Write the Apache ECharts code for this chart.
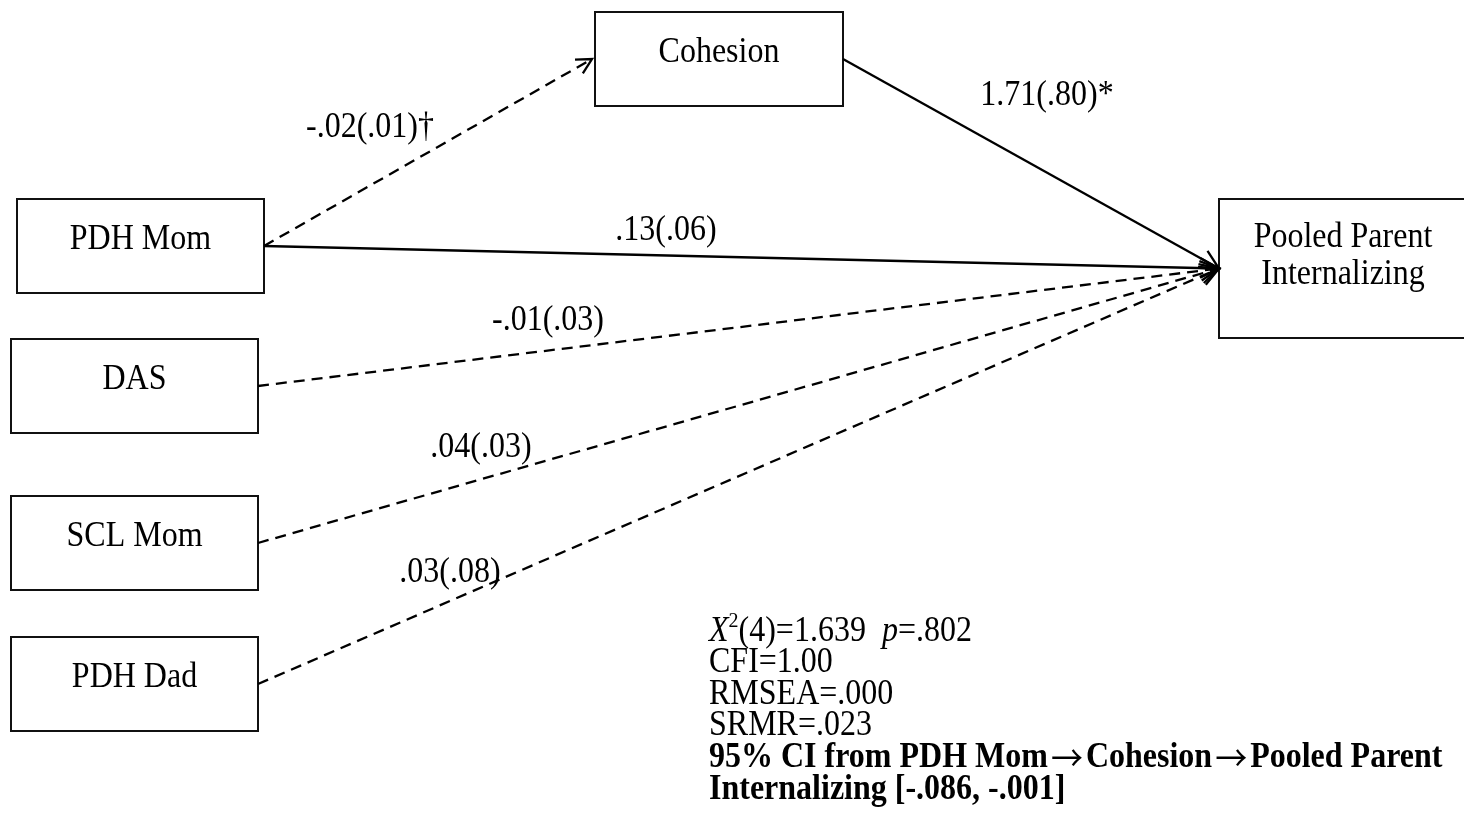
<!DOCTYPE html>
<html>
<head>
<meta charset="utf-8">
<title>Path model: Pooled Parent Internalizing</title>
<script src="https://cdn.jsdelivr.net/npm/echarts@6.0.0/dist/echarts.min.js"></script>
<style>
  html, body { margin: 0; padding: 0; background: #fff; }
  #chart { width: 1464px; height: 828px; }
</style>
</head>
<body>
<div id="chart"></div>
<script>
// ---- Model variables ----
const nodeNames = ['Cohesion', 'PDH Mom', 'DAS', 'SCL Mom', 'PDH Dad', 'Pooled Parent\nInternalizing'];

// ---- Path estimates: unstandardized coefficient (SE) ----
const pathFrom      = ['PDH Mom',  'Cohesion', 'PDH Mom', 'DAS',  'SCL Mom', 'PDH Dad'];
const pathTo        = ['Cohesion', 'Pooled Parent\nInternalizing', 'Pooled Parent\nInternalizing',
                       'Pooled Parent\nInternalizing', 'Pooled Parent\nInternalizing', 'Pooled Parent\nInternalizing'];
const pathEstimates = [-0.02, 1.71, 0.13, -0.01, 0.04, 0.03];
const pathSE        = [0.01, 0.80, 0.06, 0.03, 0.03, 0.08];
const pathSig       = ['\u2020', '*', '', '', '', ''];
const pathSolid     = [false, true, true, false, false, false];

// ---- Model fit ----
const fitChiSq = 1.639;
const fitDf = 4;
const fitP = 0.802;
const fitCFI = 1.00;
const fitRMSEA = 0.000;
const fitSRMR = 0.023;
const indirectCI = [-0.086, -0.001];

// ---- Diagram layout (pixel space of the grid) ----
const boxLayout = {
  'Cohesion':                      { x: 595,  y: 12,  w: 248, h: 94 },
  'PDH Mom':                       { x: 17,   y: 199, w: 247, h: 94 },
  'DAS':                           { x: 11,   y: 339, w: 247, h: 94 },
  'SCL Mom':                       { x: 11,   y: 496, w: 247, h: 94 },
  'PDH Dad':                       { x: 11,   y: 637, w: 247, h: 94 },
  'Pooled Parent\nInternalizing':  { x: 1219, y: 199, w: 248, h: 139 }
};
const boxTextOffset = { 'Pooled Parent\nInternalizing': 57.5 };   // vertical centre of text block from box top
const labelAnchor = [[370, 128], [1047, 96], [666, 231], [548, 321], [481, 448], [450, 573]];
const fitTextLeft = 709;
const fitLineCentres = [632, 663, 694.5, 726, 758, 790];

const FONT = '"Liberation Serif", "Times New Roman", serif';
const ARROW_FONT = '"Noto Sans CJK SC", "DejaVu Sans", sans-serif';
const INK = '#000';
const TEXT_STRETCH = 1.1;   // glyphs are set slightly tall

function fmt(v, digits) {
  let s = Math.abs(v).toFixed(digits);
  if (s.startsWith('0.')) s = s.slice(1);
  return (v < 0 ? '-' : '') + s;
}

const chart = echarts.init(document.getElementById('chart'), null, { renderer: 'canvas' });

function fitLine(i, text, bold, rich) {
  return {
    type: 'text',
    x: fitTextLeft,
    y: fitLineCentres[i],
    scaleY: TEXT_STRETCH,
    silent: true,
    style: {
      text: text, x: 0, y: 0,
      font: (bold ? 'bold ' : '') + '32px ' + FONT,
      fill: INK, align: 'left', verticalAlign: 'middle',
      rich: rich
    }
  };
}

const arrowRich = {
  arr: { fontFamily: ARROW_FONT, fontSize: 32, fontWeight: 'normal', lineHeight: 32, padding: [0, 3, 0, 3] }
};

const option = {
  backgroundColor: '#fff',
  animation: false,
  grid: { left: 0, right: 0, top: 0, bottom: 0 },
  xAxis: { type: 'value', min: 0, max: 1464, show: false },
  yAxis: { type: 'value', min: 0, max: 828, inverse: true, show: false },
  series: [
    {
      // variable boxes
      type: 'custom',
      coordinateSystem: 'cartesian2d',
      silent: true,
      data: nodeNames.map((n, i) => [i, 0]),
      renderItem(params, api) {
        const name = nodeNames[params.dataIndex];
        const b = boxLayout[name];
        const tl = api.coord([b.x, b.y]);
        const br = api.coord([b.x + b.w, b.y + b.h]);
        const ty = boxTextOffset[name] !== undefined ? boxTextOffset[name] : 41;
        const tc = api.coord([b.x + b.w / 2, b.y + ty]);
        return {
          type: 'group',
          children: [
            {
              type: 'rect',
              shape: { x: tl[0], y: tl[1], width: br[0] - tl[0], height: br[1] - tl[1] },
              style: { fill: '#fff', stroke: '#111', lineWidth: 2 }
            },
            {
              type: 'text',
              x: tc[0], y: tc[1],
              scaleY: TEXT_STRETCH,
              style: {
                text: name, x: 0, y: 0,
                font: '32px ' + FONT, fill: INK,
                align: 'center', verticalAlign: 'middle', lineHeight: 37 / TEXT_STRETCH
              }
            }
          ]
        };
      }
    },
    {
      // structural paths with open arrowheads and estimate labels
      type: 'custom',
      coordinateSystem: 'cartesian2d',
      silent: true,
      data: pathEstimates.map((v, i) => [i, v]),
      renderItem(params, api) {
        const i = params.dataIndex;
        const a = boxLayout[pathFrom[i]];
        const b = boxLayout[pathTo[i]];
        const gap = pathTo[i] === 'Cohesion' ? 3 : 0;
        const p0 = api.coord([a.x + a.w, a.y + a.h / 2]);
        const p1 = api.coord([b.x - gap, b.y + b.h / 2]);
        const ang = Math.atan2(p1[1] - p0[1], p1[0] - p0[0]);
        const wing = pathTo[i] === 'Cohesion' ? 17 : 21;
        const spread = Math.PI / 6.5;
        const w1 = [p1[0] - wing * Math.cos(ang - spread), p1[1] - wing * Math.sin(ang - spread)];
        const w2 = [p1[0] - wing * Math.cos(ang + spread), p1[1] - wing * Math.sin(ang + spread)];
        const lp = api.coord(labelAnchor[i]);
        const label = fmt(pathEstimates[i], 2) + '(' + fmt(pathSE[i], 2) + ')' + pathSig[i];
        return {
          type: 'group',
          children: [
            {
              type: 'line',
              shape: { x1: p0[0], y1: p0[1], x2: p1[0], y2: p1[1] },
              style: { stroke: '#000', lineWidth: 2.3, lineDash: pathSolid[i] ? null : [11, 7] }
            },
            {
              type: 'polyline',
              shape: { points: [w1, p1, w2] },
              style: { stroke: '#000', lineWidth: 2.3, fill: null }
            },
            {
              type: 'text',
              x: lp[0], y: lp[1],
              scaleY: TEXT_STRETCH,
              style: {
                text: label, x: 0, y: 0,
                font: '32px ' + FONT, fill: INK,
                align: 'center', verticalAlign: 'middle'
              }
            }
          ]
        };
      }
    }
  ],
  graphic: [
    fitLine(0,
      '{it|X}{sup|2}(' + fitDf + ')=' + fitChiSq.toFixed(3) + '  {it|p}=' + fmt(fitP, 3),
      false,
      {
        it: { fontFamily: FONT, fontSize: 32, fontStyle: 'italic', lineHeight: 32 },
        sup: { fontFamily: FONT, fontSize: 20, lineHeight: 32, padding: [0, 0, 20, 0] }
      }),
    fitLine(1, 'CFI=' + fitCFI.toFixed(2), false),
    fitLine(2, 'RMSEA=' + fmt(fitRMSEA, 3), false),
    fitLine(3, 'SRMR=' + fmt(fitSRMR, 3), false),
    fitLine(4, '95% CI from PDH Mom{arr|\u2192}Cohesion{arr|\u2192}Pooled Parent', true, arrowRich),
    fitLine(5, 'Internalizing [' + fmt(indirectCI[0], 3) + ', ' + fmt(indirectCI[1], 3) + ']', true)
  ]
};

chart.setOption(option);
</script>
</body>
</html>
